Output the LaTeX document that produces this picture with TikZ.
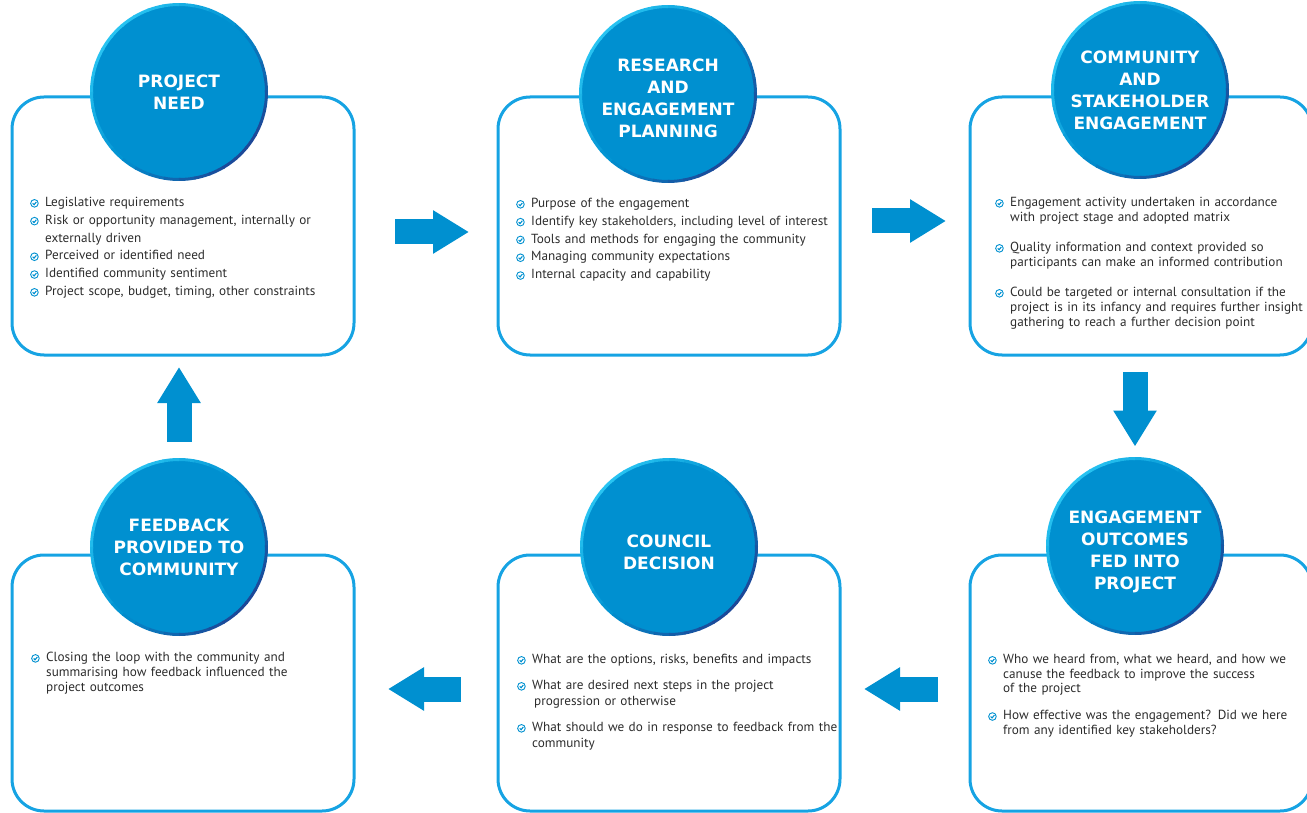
\documentclass[tikz,border=0pt]{standalone}
\usepackage{fontspec}
\setmainfont{PT Sans}
\newfontfamily\headfamily{DejaVu Sans}
\usetikzlibrary{arrows.meta}

\definecolor{stageblue}{RGB}{0,144,208}
\definecolor{rimlight}{RGB}{40,196,242}
\definecolor{rimdark}{RGB}{28,72,152}
\definecolor{boxblue}{RGB}{22,163,227}
\definecolor{textgray}{RGB}{44,44,44}

\newcommand\headfont{\headfamily\fontsize{17}{22}\selectfont\bfseries}
\newcommand\tick{\tikz[x=1pt,y=1pt,baseline=-3.2pt]{%
  \draw[stageblue,line width=0.9pt] (0,0) circle (3.8);
  \draw[stageblue,line width=1.1pt] (-1.8,0) -- (-0.4,-1.4) -- (1.9,1.4);}}
\newcommand\itm[1]{\noindent\hangindent=15pt\hangafter=1\makebox[15pt][l]{\tick}#1\par}
\newcommand\rim[1]{%
  \foreach \a in {0,10,...,350}{%
    \pgfmathsetmacro\lt{(cos(\a-135)>0)*100}%
    \pgfmathsetmacro\mx{100*abs(cos(\a-135))}%
    \draw[line width=3pt,color=rimlight!\lt!rimdark!\mx!stageblue]
      (#1.\a) arc[start angle=\a,delta angle=11,radius=87.5pt];
  }}

\begin{document}
\begin{tikzpicture}[x=1pt,y=1pt]

\tikzset{stagebox/.style={draw=boxblue,line width=3pt,rounded corners=32pt,
  minimum width=342pt,inner sep=0pt,outer sep=0pt,anchor=north west}}
\tikzset{stagecircle/.style={circle,fill=stageblue,minimum size=175pt,
  inner sep=0pt,outer sep=0pt}}
\tikzset{headtext/.style={align=center,text=white,font=\headfont,inner sep=0pt}}
\tikzset{itemtext/.style={anchor=north west,inner sep=0pt,text width=330pt,
  align=left,text=textgray}}
\tikzset{flow/.style={draw=stageblue,line width=25pt,
  -{Triangle[width=41pt,length=36pt]}}}

\path[use as bounding box,clip] (0,0) rectangle (1307,-813);

% boxes
\node[stagebox,minimum height=258pt] (b1) at (12,-97) {};
\node[stagebox,minimum height=258pt] (b2) at (498,-97) {};
\node[stagebox,minimum height=258pt] (b3) at (970,-97) {};
\node[stagebox,minimum height=256pt] (b4) at (12,-555) {};
\node[stagebox,minimum height=256pt] (b5) at (498,-555) {};
\node[stagebox,minimum height=256pt] (b6) at (970,-555) {};

% circles
\node[stagecircle] (c1) at (179,-92) {};
\node[stagecircle] (c2) at (668,-94) {};
\node[stagecircle] (c3) at (1140,-90) {};
\node[stagecircle] (c4) at (179,-547) {};
\node[stagecircle] (c5) at (669,-547) {};
\node[stagecircle] (c6) at (1135,-546) {};
\rim{c1} \rim{c2} \rim{c3} \rim{c4} \rim{c5} \rim{c6}

\node[headtext] (h1) at (c1) {PROJECT\\NEED};
\node[headtext] (h2) at ([yshift=-4pt]c2) {RESEARCH\\AND\\ENGAGEMENT\\PLANNING};
\node[headtext] (h3) at (c3) {COMMUNITY\\AND\\STAKEHOLDER\\ENGAGEMENT};
\node[headtext] (h4) at (c4) {FEEDBACK\\PROVIDED TO\\COMMUNITY};
\node[headtext] (h5) at ([yshift=-5pt]c5) {COUNCIL\\DECISION};
\node[headtext] (h6) at ([yshift=-6pt]c6) {ENGAGEMENT\\OUTCOMES\\FED INTO\\PROJECT};

% lists
\node[itemtext,font=\fontsize{13.2}{17.8}\selectfont] (t1) at (30,-197) {%
  \itm{Legislative requirements}
  \itm{Risk or opportunity management, internally or\newline externally driven}
  \itm{Perceived or identified need}
  \itm{Identified community sentiment}
  \itm{Project scope, budget, timing, other constraints}};
\node[itemtext,font=\fontsize{13.2}{17.8}\selectfont] (t2) at (516,-198) {%
  \itm{Purpose of the engagement}
  \itm{Identify key stakeholders, including level of interest}
  \itm{Tools and methods for engaging the community}
  \itm{Managing community expectations}
  \itm{Internal capacity and capability}};
\node[itemtext,font=\fontsize{13.2}{15}\selectfont] (t3) at (995,-197) {%
  \setlength\parskip{15pt}%
  \itm{Engagement activity undertaken in accordance\newline with project stage and adopted matrix}
  \itm{Quality information and context provided so\newline participants can make an informed contribution}
  \itm{Could be targeted or internal consultation if the\newline project is in its infancy and requires further insight\newline gathering to reach a further decision point}};
\node[itemtext,font=\fontsize{13.2}{15}\selectfont] (t4) at (31,-652) {%
  \itm{Closing the loop with the community and\newline summarising how feedback influenced the\newline project outcomes}};
\node[itemtext,font=\fontsize{13.2}{16}\selectfont] (t5) at (517,-654) {%
  \setlength\parskip{10pt}%
  \itm{What are the options, risks, benefits and impacts}
  \itm{What are desired next steps in the project\newline\hspace*{2pt}progression or otherwise}
  \itm{What should we do in response to feedback from the\newline community}};
\node[itemtext,font=\fontsize{13.2}{14.6}\selectfont] (t6) at (988,-654) {%
  \setlength\parskip{12.4pt}%
  \itm{Who we heard from, what we heard, and how we\newline canuse the feedback to improve the success\newline of the project}
  \itm{How effective was the engagement? Did we here\newline from any identified key stakeholders?}};

% arrows
\draw[flow,shorten <=41pt,shorten >=29pt] ([yshift=-6pt]b1.east) -- ([yshift=-6pt]b2.west);
\draw[flow,shorten <=32pt,shorten >=24pt] ([yshift=5pt]b2.east) -- ([yshift=5pt]b3.west);
\draw[flow,shorten <=17pt,shorten >=12pt] (c6.north |- b3.south) -- (c6.north);
\draw[flow,shorten <=32pt,shorten >=24pt] ([yshift=-6pt]b6.west) -- ([yshift=-6pt]b5.east);
\draw[flow,shorten <=37pt,shorten >=34pt] ([yshift=-6pt]b5.west) -- ([yshift=-6pt]b4.east);
\draw[flow,shorten <=18pt,shorten >=12pt] (c4.north) -- (c4.north |- b1.south);

\end{tikzpicture}
\end{document}
